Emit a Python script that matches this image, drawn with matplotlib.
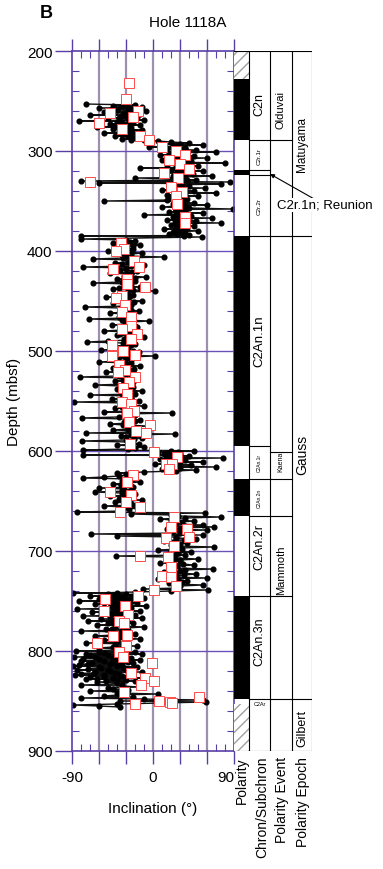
import matplotlib
matplotlib.use("Agg")
import matplotlib.pyplot as plt
from matplotlib.patches import Rectangle
import numpy as np

plt.rcParams['font.family'] = ['Liberation Sans', 'DejaVu Sans']

# ---------------- data ----------------
# long-core inclination measurements (depth in mbsf, inclination in degrees)
dot_depth = [
    253,254,255,256,257,258,259,260,261,262,263,264,265,266,267,268,269,270,271,272,
    273,274,275,276,277,278,279,280,281,282,283,284,285,286,287,288,289,290,
    291,292,293,294,295,296,297,298,299,300,301,302,303,304,305,306,307,308,309,310,
    311,312,313,314,315,316,317,318,319,320,321,322,323,324,325,326,327,328,329,330,
    331,332,333,334,335,336,337,338,339,340,341,342,343,344,345,346,
    347,348,349,350,351,352,353,354,355,356,357,358,359,360,361,362,363,364,365,366,
    367,368,369,370,371,372,373,374,375,376,377,378,379,380,381,382,383,384,385,386,
    388,390,392,394,396,398,400,402,404,406,408,410,412,414,416,418,420,422,424,426,
    428,430,432,434,436,438,440,442,444,446,448,450,452,454,456,458,460,462,464,466,
    468,470,472,474,476,478,480,482,484,486,488,490,491,493,495,497,499,501,503,505,
    507,509,511,513,515,517,519,521,523,525,526,528,530,532,534,536,538,540,542,544,
    546,548,550,551,553,555,557,559,561,562,564,566,567,569,571,573,575,577,579,581,
    582,583,585,587,589,590,592,594,596,598,
    599,600,601,602,603,604,605,606,607,608,609,610,611,612,613,614,615,616,617,618,619,620,
    621,622,624,626,627,629,631,633,635,637,639,641,643,645,647,649,651,653,655,657,659,661,662,663,
    664,666,667,668,670,672,674,676,677,678,679,681,683,684,685,686,688,690,692,694,
    696,697,699,701,703,705,706,708,710,712,714,716,718,719,721,723,725,727,728,730,
    732,734,736,738,739,740,
    741,742,743,744,745,746,747,748,749,750,751,752,753,754,755,756,757,758,759,760,
    761,762,763,764,765,766,767,768,769,770,771,772,774,775,776,778,779,780,782,783,
    785,786,788,789,791,792,794,795,797,798,800,801,802,803,804,805,806,807,808,809,
    810,811,812,813,814,815,816,817,818,819,820,821,822,823,824,825,826,827,828,829,
    830,831,833,834,836,837,839,840,842,843,845,846,847,
    848,849,850,851,852,853,854,855,856,
]
dot_inc = [
    -75,-20,-45,-12,-60,-25,-40,-8,-55,-30,-15,-70,-35,-18,-50,-28,-10,-82,-40,-22,
    -48,-14,-35,-62,-25,-45,-12,-38,-20,-55,-30,-16,-42,-25,-5,-35,-10,5,
    20,40,12,55,25,-5,35,15,48,28,70,18,38,8,45,25,60,30,10,42,
    22,80,33,15,50,26,-15,38,20,55,30,12,44,24,65,35,-20,28,48,-80,
    85,-60,75,18,40,22,58,30,10,45,25,70,35,15,50,30,
    20,38,15,-54,30,45,22,60,28,10,40,89,25,35,18,55,30,-10,42,22,
    65,33,15,48,28,75,35,20,45,25,38,12,30,50,22,35,18,40,-80,54,
    -80,-20,-45,-15,-38,-22,-50,-12,-35,12,-67,-25,-42,-10,-78,-30,-18,-48,-26,-8,
    -40,-20,-67,-32,-14,-45,2,-36,-22,-52,-28,-12,-44,-24,-76,-34,-16,-48,-26,-38,
    -71,-4,-30,-46,-18,-36,-55,-22,-40,-10,-32,-50,-73,-20,-42,-28,-58,-16,-36,2,
    -46,-24,-60,-30,-14,-44,-26,-52,-20,-38,-81,-18,-42,-28,-64,-22,-40,-12,-34,-70,
    -24,-46,-16,-88,-30,-10,-42,-26,-55,21,-20,-38,-79,-14,-32,-48,-6,-28,-44,-18,
    -75,24,-36,-12,-30,-79,-22,-40,-10,-28,
    -78,46,5,30,12,-78,40,22,78,8,35,18,55,25,2,42,20,70,30,10,48,25,
    -10,-40,-22,-55,-78,-30,-15,-45,-25,-60,-35,-65,-20,-48,-28,-12,-42,-24,-55,-18,-38,-84,58,-25,
    20,75,35,8,45,22,55,68,30,15,60,40,-69,56,-40,25,48,12,38,20,
    68,30,5,42,25,-41,15,50,30,8,45,22,67,35,12,48,25,60,5,38,
    18,55,28,-11,61,20,
    -20,-89,-50,-15,-70,-35,-10,-60,-28,-82,-45,-18,-65,-38,-8,-55,-25,-85,-42,-15,
    -68,-32,-50,-20,-78,-40,-12,-58,-30,-72,-45,-22,-62,-35,-10,-52,-28,-80,-45,-20,
    -65,-38,-15,-55,-30,-75,-42,-18,-60,-35,-86,-20,-55,-12,-70,-40,-88,-25,-60,-15,
    -80,-45,-22,-72,-35,-89,-18,-58,-30,-84,-48,-12,-66,-38,-87,-25,-55,-8,-75,-40,
    -20,-62,-35,-80,-15,-50,-28,-70,-40,5,-55,-22,-80,
    -10,55,-37,59,10,-40,-89,-60,-37,
]
# additional long-core measurements inside the dense clusters
core_depth = [
    254.5,256.5,258.5,260.5,262.5,264.5,266.5,268.5,270.5,272.5,274.5,276.5,278.5,280.5,282.5,284.5,286.5,288.5,
    292.5,294.5,296.5,298.5,300.5,302.5,304.5,306.5,308.5,310.5,312.5,314.5,316.5,318.5,320.5,322.5,324.5,326.5,
    328.5,332.5,334.5,336.5,338.5,340.5,342.5,344.5,346.5,348.5,350.5,352.5,354.5,356.5,358.5,360.5,362.5,364.5,
    366.5,368.5,370.5,372.5,374.5,376.5,378.5,380.5,382.5,384.5,
    389,391,393,395,397,399,401,403,405,407,409,411,413,415,417,419,421,423,425,427,
    429,431,433,435,437,439,441,443,445,447,449,451,453,455,457,459,461,463,465,467,
    469,471,473,475,477,479,481,483,485,487,489,492,494,496,498,500,502,504,506,508,
    510,512,514,516,518,520,522,524,527,529,531,533,535,537,539,541,543,545,547,549,
    552,554,556,558,560,563,565,568,570,572,574,576,578,580,584,586,588,591,593,595,597,
    599.5,600.5,601.5,602.5,603.5,604.5,605.5,606.5,608.5,610.5,612.5,614.5,616.5,618.5,
    623,625,628,630,632,634,636,638,640,642,644,646,648,650,652,654,656,658,660,
    665,669,671,673,675,680,682,687,689,691,693,695,698,700,702,704,707,709,711,713,
    715,717,720,722,724,726,729,731,733,735,737,
    741.5,742.5,743.5,744.5,745.5,746.5,747.5,748.5,749.5,750.5,751.5,752.5,753.5,754.5,755.5,756.5,
    757.5,758.5,759.5,760.5,761.5,762.5,763.5,764.5,765.5,766.5,767.5,768.5,769.5,770.5,771.5,773,
    774.5,777,777.5,781,784,787,790,793,796,799,800.5,801.5,802.5,803.5,804.5,805.5,806.5,807.5,
    808.5,809.5,810.5,811.5,812.5,813.5,814.5,815.5,816.5,817.5,818.5,819.5,820.5,821.5,822.5,823.5,
    824.5,825.5,826.5,827.5,828.5,829.5,832,835,838,841,844,
]
core_inc = [
    -35,-28,-40,-24,-33,-30,-38,-22,-35,-28,-42,-26,-32,-24,-36,-28,-20,-25,
    30,22,35,26,38,24,32,28,36,22,30,40,25,33,27,35,22,30,
    38,26,32,24,36,28,34,22,30,25,33,28,36,24,30,35,26,32,
    28,38,24,33,29,35,26,31,27,34,
    -30,-26,-34,-22,-31,-27,-36,-24,-29,-33,-21,-28,-35,-25,-30,-37,-23,-29,-32,-20,
    -27,-34,-25,-30,-38,-22,-28,-33,-26,-35,-29,-21,-31,-27,-36,-24,-30,-33,-22,-28,
    -35,-25,-31,-20,-29,-34,-26,-37,-23,-30,-27,-33,-25,-31,-36,-22,-28,-34,-26,-30,
    -38,-24,-29,-32,-21,-27,-35,-25,-30,-33,-22,-28,-36,-24,-29,-31,-20,-26,-34,-23,
    -30,-27,-35,-22,-28,-32,-24,-29,-20,-26,-33,-22,-28,-18,-25,-30,-21,-27,-16,-24,-20,
    20,28,15,24,30,18,26,14,25,30,20,28,22,26,
    -30,-38,-25,-34,-28,-36,-22,-32,-27,-35,-24,-30,-38,-26,-32,-22,-30,-27,-34,
    28,20,32,25,35,22,30,26,34,22,30,25,32,20,28,35,24,30,22,33,
    27,20,30,25,34,22,28,32,24,30,26,
    -40,-30,-45,-25,-38,-50,-32,-42,-22,-36,-48,-30,-40,-26,-44,-34,
    -52,-28,-38,-46,-30,-42,-35,-48,-25,-40,-32,-44,-28,-38,-50,-34,
    -42,-30,-46,-36,-44,-32,-40,-28,-45,-35,-60,-40,-75,-50,-30,-65,-45,-78,
    -38,-55,-28,-68,-48,-82,-40,-60,-32,-72,-50,-25,-65,-42,-80,-55,
    -35,-70,-45,-62,-30,-52,-40,-35,-45,-30,-38,
]

# discrete-sample inclinations
sq_depth = [
    232,248,260,262,266,272,278,285,289,
    296,300,304,309,313,318,322,327,331,336,341,345,353,366,372,
    392,398,400,410,416,418,428,433,436,445,447,454,461,466,475,478,483,488,494,500,
    504,505,514,519,521,526,531,537,543,551,553,560,562,571,574,580,582,593,
    601,606,613,613,618,
    624,631,641,644,651,656,661,
    666,676,678,686,687,695,705,706,716,725,726,735,739,
    745,748,755,760,764,770,772,784,785,792,795,801,806,812,822,827,830,834,841,
    846,850,851,852,853,
]
sq_inc = [
    -27,-30,-17,-48,-22,-60,-35,-15,-5,
    10,25,35,18,30,40,12,28,-70,20,32,25,27,36,35,
    -36,-32,-41,-21,-16,-45,-29,-29,-9,-34,-41,-31,-34,-24,-25,-34,-18,-25,-46,-33,
    -20,-46,-38,-31,-39,-20,-27,-33,-29,-35,-25,-21,-29,-27,-3,-19,-8,-26,
    1,27,14,21,18,
    -22,-29,-48,-24,-30,-15,-37,
    23,20,38,40,14,23,-15,17,20,10,20,26,1,
    -17,-53,-31,-54,-28,-38,-32,-29,-44,-62,-30,-38,-33,-1,-25,-9,1,-13,-32,
    51,7,19,21,-20,
]

# magnetostratigraphy
normal_top = [228, 319, 385, 628, 745]
normal_bot = [289, 324, 595, 665, 848]
nodata_top = [200, 853]
nodata_bot = [228, 900]
chron_bounds = [289, 319, 324, 385, 595, 628, 665, 745, 848]
event_bounds = [289, 385, 601, 628, 665, 745, 848]
epoch_bounds = [385, 848]
chron_names = ['C2n', 'C2r.1r', 'C2r.2r', 'C2An.1n', 'C2An.1r', 'C2An.2n', 'C2An.2r', 'C2An.3n']
chron_pos = [252, 305, 355, 489, 611, 646, 695, 790]
chron_size = [9, 4.5, 4.5, 9.5, 3.5, 3.5, 9, 9]
event_names = ['Olduvai', 'Kaena', 'Mammoth']
event_pos = [258, 610, 718]
event_size = [8, 5, 8]
epoch_names = ['Matuyama', 'Gauss', 'Gilbert']
epoch_pos = [293, 603, 876]
epoch_size = [8.5, 10, 9]

# ---------------- figure ----------------
W, H = 383, 870
fig = plt.figure(figsize=(W / 100, H / 100), dpi=100)
bottom = 1 - 752 / H
height = 700 / H
ax = fig.add_axes([72 / W, bottom, 162 / W, height])
ax.set_xlim(-90, 90)
ax.set_ylim(900, 200)

purple = '#5a3ea8'
vgrid = '#9d90ae'
hgrid = '#6c52b8'

for v in [-60, -30, 0, 30, 60]:
    ax.axvline(v, color=vgrid, lw=1.6, zorder=0)
for h in [300, 400, 500, 600, 700, 800]:
    ax.axhline(h, color=hgrid, lw=1.0, zorder=0)

all_d = np.array(dot_depth + core_depth, dtype=float)
all_i = np.array(dot_inc + core_inc, dtype=float)
order = np.argsort(all_d, kind='stable')
ax.plot(all_i[order], all_d[order], color='#111111', lw=1.0, marker='o', ms=3.4,
        mfc='black', mec='black', zorder=2)
ax.plot(sq_inc, sq_depth, ls='none', marker='s', ms=6.8, mfc='white',
        mec='#ff4a4a', mew=0.7, zorder=3)

for s in ax.spines.values():
    s.set_color(purple)
    s.set_linewidth(1.2)

ax.set_xticks([-90, -60, -30, 0, 30, 60, 90])
ax.set_xticklabels(['-90', '', '', '0', '', '', '90'])
ax.set_xticks(range(-90, 91, 10), minor=True)
ax.set_yticks(range(200, 901, 100))
ax.set_yticks(range(200, 901, 20), minor=True)
ax.tick_params(axis='x', which='major', direction='out', length=9, width=1,
               color=purple, top=True, bottom=True, labelsize=11, pad=5)
ax.tick_params(axis='x', which='minor', direction='in', length=5, width=0.8,
               color=purple, top=True, bottom=True)
ax.tick_params(axis='y', which='major', direction='out', length=12, width=1,
               color=purple, left=True, right=False, labelsize=11, pad=2)
ax.tick_params(axis='y', which='minor', direction='in', length=5, width=0.8,
               color=purple, left=True, right=True)
xl = ax.get_xticklabels()
xl[-1].set_horizontalalignment('right')
xl[-1].set_x(90)

ax.set_xlabel('Inclination (°)', fontsize=11, labelpad=12)
ax.set_ylabel('Depth (mbsf)', fontsize=11, labelpad=4)

fig.text(188 / W, 1 - 23 / H, 'Hole 1118A', ha='center', va='center', fontsize=11)
fig.text(40 / W, 1 - 13 / H, 'B', ha='left', va='center', fontsize=13, fontweight='bold')

# ---------------- columns ----------------
cax = fig.add_axes([234 / W, bottom, 78 / W, height])
cax.set_xlim(0, 78)
cax.set_ylim(900, 200)
cax.axis('off')

for t, b in zip(normal_top, normal_bot):
    cax.add_patch(Rectangle((0, t), 15, b - t, facecolor='black', edgecolor='none'))
for t, b in zip(nodata_top, nodata_bot):
    cax.add_patch(Rectangle((0, t), 15, b - t, facecolor='white', edgecolor='#a0a0a0',
                            hatch='///', lw=0))

lw = 0.8
for x in [15, 36, 58, 78]:
    cax.plot([x, x], [200, 900], color='black', lw=lw)
cax.plot([0, 78], [200, 200], color='black', lw=lw)
cax.plot([0, 78], [900, 900], color='black', lw=lw)
for y in chron_bounds:
    cax.plot([15, 36], [y, y], color='black', lw=lw)
for y in event_bounds:
    cax.plot([36, 58], [y, y], color='black', lw=lw)
for y in epoch_bounds:
    cax.plot([58, 78], [y, y], color='black', lw=lw)

for n, p, s in zip(chron_names, chron_pos, chron_size):
    cax.text(25.5, p, n, rotation=90, ha='center', va='center', fontsize=s)
cax.text(25.5, 853, 'C2Ar', ha='center', va='center', fontsize=4)
for n, p, s in zip(event_names, event_pos, event_size):
    cax.text(47, p, n, rotation=90, ha='center', va='center', fontsize=s)
for n, p, s in zip(epoch_names, epoch_pos, epoch_size):
    cax.text(68, p, n, rotation=90, ha='center', va='center', fontsize=s)

cax.annotate('C2r.1n; Reunion', xy=(36, 323), xytext=(43, 354),
             fontsize=9.5, ha='left', va='center', annotation_clip=False,
             bbox=dict(facecolor='white', edgecolor='none', pad=0.5),
             arrowprops=dict(arrowstyle='-|>', color='black', lw=0.8,
                             shrinkA=0, shrinkB=0, mutation_scale=6))

for xc, lab in zip([242, 262, 282, 303],
                   ['Polarity', 'Chron/Subchron', 'Polarity Event', 'Polarity Epoch']):
    fig.text(xc / W, 1 - 757 / H, lab, rotation=90, ha='center', va='top', fontsize=10)

fig.savefig('out.png', dpi=100)
